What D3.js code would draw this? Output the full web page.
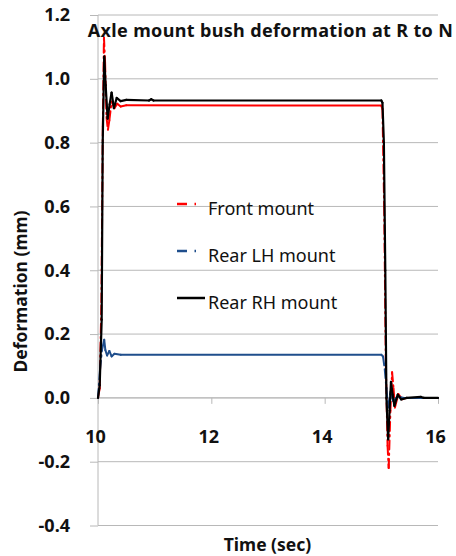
<!DOCTYPE html>
<html>
<head>
<meta charset="utf-8">
<script src="https://cdn.jsdelivr.net/npm/d3@7"></script>
<style>
  body { margin: 0; background: #fff; }
  svg { display: block; font-family: "Noto Sans", "Open Sans", sans-serif; }
</style>
</head>
<body>
<svg id="chart" width="456" height="556"></svg>
<script>
// ---- data ----
const yTicks = [-0.4, -0.2, 0.0, 0.2, 0.4, 0.6, 0.8, 1.0, 1.2];
const xTicks = [10, 12, 14, 16];
const seriesNames = ["Front mount", "Rear LH mount", "Rear RH mount"];

const frontMount = [
  [10.0, 0], [10.03, 0.03], [10.06, 0.3], [10.085, 0.85], [10.105, 1.13], [10.125, 1.05],
  [10.15, 0.88], [10.175, 0.84], [10.2, 0.87], [10.24, 0.928], [10.29, 0.908], [10.34, 0.922],
  [10.4, 0.913], [10.5, 0.917], [15.0, 0.916], [15.02, 0.905], [15.05, 0.6], [15.08, 0.1],
  [15.11, -0.15], [15.13, -0.22], [15.16, -0.04], [15.19, 0.08], [15.215, 0.03], [15.24, -0.03],
  [15.3, 0.012], [15.37, -0.004], [15.45, 0], [16.0, 0]
];
const rearLH = [
  [10.0, 0], [10.035, 0.088], [10.07, 0.15], [10.11, 0.182], [10.13, 0.15], [10.16, 0.133],
  [10.2, 0.147], [10.24, 0.13], [10.29, 0.138], [10.4, 0.135], [15.0, 0.135], [15.03, 0.13],
  [15.06, 0.09], [15.09, 0.03], [15.12, -0.03], [15.16, 0.02], [15.21, -0.01], [15.28, 0.004],
  [15.4, 0], [16.0, 0]
];
const rearRH = [
  [10.0, 0], [10.03, 0.04], [10.065, 0.245], [10.083, 0.8], [10.11, 1.07], [10.135, 0.98],
  [10.17, 0.875], [10.205, 0.92], [10.24, 0.957], [10.28, 0.908], [10.33, 0.94], [10.4, 0.93],
  [10.5, 0.934], [10.9, 0.932], [10.94, 0.936], [10.98, 0.932], [15.0, 0.932], [15.02, 0.925],
  [15.045, 0.8], [15.07, 0.4], [15.09, 0.0], [15.12, -0.13], [15.145, -0.04], [15.17, 0.05],
  [15.2, 0.01], [15.23, -0.025], [15.29, 0.01], [15.35, -0.005], [15.45, 0], [15.7, 0.003],
  [15.75, 0], [16.0, 0]
];

// ---- layout ----
const svg = d3.select("#chart");
const x = d3.scaleLinear().domain([10, 16]).range([98, 438]);
const y = d3.scaleLinear().domain([-0.4, 1.2]).range([525.5, 15]);
const gridColor = "#b8b8b8";
const fmtY = d => d3.format(".1f")(d).replace("\u2212", "-");

// gridlines
svg.append("g").selectAll("line").data(yTicks).join("line")
  .attr("x1", x(10)).attr("x2", x(16))
  .attr("y1", d => y(d)).attr("y2", d => y(d))
  .attr("stroke", gridColor).attr("stroke-width", 1);

// y axis
const yAxis = svg.append("g").attr("transform", `translate(${x(10)},0)`)
  .call(d3.axisLeft(y).tickValues(yTicks).tickFormat(fmtY).tickSize(8).tickPadding(20));
yAxis.select(".domain").attr("stroke", gridColor).attr("d", `M0,${y(1.2)}V${y(-0.4)}`);
yAxis.selectAll(".tick line").attr("stroke", gridColor);
yAxis.selectAll(".tick text").attr("fill", "#111").attr("font-size", 18).attr("font-weight", "bold")
  .attr("font-family", "Noto Sans, sans-serif");

// x axis at y=0
const xAxis = svg.append("g").attr("transform", `translate(0,${y(0)})`)
  .call(d3.axisBottom(x).tickValues(xTicks).tickFormat(d3.format("d")).tickSize(6).tickPadding(26));
xAxis.select(".domain").attr("stroke", gridColor).attr("d", `M${x(10)},0H${x(16)}`);
xAxis.selectAll(".tick line").attr("stroke", gridColor);
xAxis.selectAll(".tick text").attr("fill", "#111").attr("font-size", 18).attr("font-weight", "bold")
  .attr("dx", -3).attr("font-family", "Noto Sans, sans-serif");

// series drawing: per segment, steep segments dashed (as in the reference)
function drawSeries(data, color, width, dashed) {
  const g = svg.append("g");
  for (let i = 0; i < data.length - 1; i++) {
    const x1 = x(data[i][0]), y1 = y(data[i][1]);
    const x2 = x(data[i + 1][0]), y2 = y(data[i + 1][1]);
    const steep = Math.abs(y2 - y1) > 1.5 * Math.abs(x2 - x1) && Math.abs(y2 - y1) > 12;
    g.append("line")
      .attr("x1", x1).attr("y1", y1).attr("x2", x2).attr("y2", y2)
      .attr("stroke", color).attr("stroke-width", width)
      .attr("stroke-linecap", "round")
      .attr("stroke-dasharray", dashed && steep ? "9,4,1.5,4" : null);
  }
}
const colors = ["#ff0000", "#1f4e8c", "#000000"];
drawSeries(frontMount, colors[0], 2, true);
drawSeries(rearLH, colors[1], 2, true);
drawSeries(rearRH, colors[2], 2.2, false);

// legend
const legendY = [204, 251, 298];
const lg = svg.append("g");
seriesNames.forEach((name, i) => {
  const ly = legendY[i];
  if (i < 2) {
    lg.append("line").attr("x1", 177).attr("x2", 187).attr("y1", ly).attr("y2", ly)
      .attr("stroke", colors[i]).attr("stroke-width", 2.5);
    lg.append("line").attr("x1", 194.5).attr("x2", 196).attr("y1", ly).attr("y2", ly)
      .attr("stroke", colors[i]).attr("stroke-width", 2.5);
  } else {
    lg.append("line").attr("x1", 177).attr("x2", 205).attr("y1", ly).attr("y2", ly)
      .attr("stroke", colors[i]).attr("stroke-width", 2.5);
  }
  lg.append("text").attr("x", 208).attr("y", ly + 11).text(name)
    .attr("font-size", 18).attr("fill", "#111").style("white-space", "pre");
});

// title
svg.append("text").attr("x", 270.5).attr("y", 37).attr("text-anchor", "middle")
  .attr("font-size", 18).attr("font-weight", "bold").attr("fill", "#111")
  .attr("letter-spacing", 0.35)
  .text("Axle mount bush deformation at R to N");

// axis titles
svg.append("text").attr("x", 267.5).attr("y", 551).attr("text-anchor", "middle")
  .attr("font-size", 17.5).attr("font-weight", "bold").attr("fill", "#111")
  .text("Time (sec)");
svg.append("text").attr("transform", "translate(27,291.5) rotate(-90)").attr("text-anchor", "middle")
  .attr("font-size", 17.5).attr("font-weight", "bold").attr("fill", "#111")
  .text("Deformation (mm)");
</script>
</body>
</html>
